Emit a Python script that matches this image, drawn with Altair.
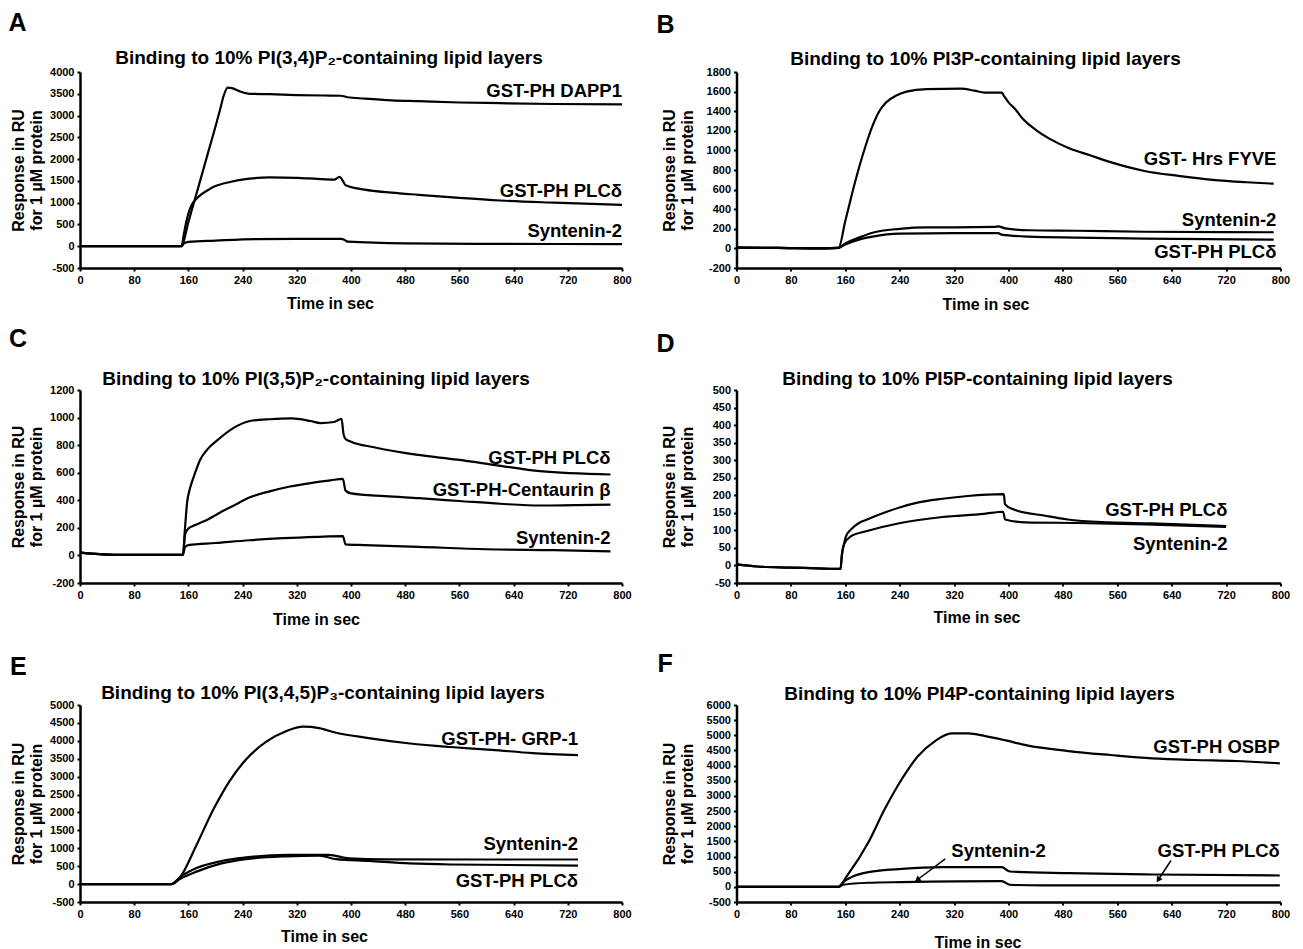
import altair as alt
import pandas as pd

FONT = "Liberation Sans"
X_TICKS = [0, 80, 160, 240, 320, 400, 480, 560, 640, 720, 800]

# ---------------- Panel A : PI(3,4)P2 ----------------
A_dapp1_t = [0, 50, 100, 150, 160, 170, 180, 190, 200, 207, 212, 218, 224, 235, 250, 280, 320, 360, 385, 395, 420, 460, 500, 560, 620, 700, 800]
A_dapp1_v = [0, 0, 0, 0, 560, 1100, 1650, 2200, 2750, 3150, 3450, 3640, 3630, 3560, 3500, 3490, 3470, 3460, 3455, 3420, 3390, 3350, 3330, 3300, 3285, 3265, 3255]
A_plc_t = [0, 50, 100, 150, 153, 156, 160, 165, 172, 180, 190, 200, 220, 250, 280, 320, 350, 375, 383, 388, 392, 420, 460, 500, 560, 620, 700, 800]
A_plc_v = [0, 0, 0, 0, 250, 500, 750, 950, 1090, 1200, 1300, 1380, 1470, 1550, 1580, 1570, 1545, 1530, 1590, 1500, 1400, 1300, 1230, 1180, 1110, 1050, 1000, 950]
A_syn_t = [0, 100, 150, 153, 160, 200, 260, 320, 385, 390, 395, 480, 600, 800]
A_syn_v = [0, 0, 0, 60, 100, 130, 165, 170, 170, 150, 105, 65, 55, 50]
A_labels = ["GST-PH DAPP1", "GST-PH PLCδ", "Syntenin-2"]
A_label_t = [800, 800, 800]
A_label_v = [3418, 1130, 216]

# ---------------- Panel B : PI3P ----------------
B_hrs_t = [0, 60, 130, 150, 160, 170, 180, 190, 200, 210, 220, 235, 250, 280, 330, 350, 365, 390, 393, 400, 410, 420, 440, 460, 490, 520, 550, 600, 650, 700, 750, 790]
B_hrs_v = [8, 5, 0, 5, 280, 560, 820, 1050, 1250, 1400, 1490, 1560, 1600, 1625, 1630, 1610, 1590, 1590, 1560, 1490, 1420, 1330, 1210, 1120, 1020, 950, 880, 790, 740, 700, 675, 660]
B_syn_t = [0, 60, 130, 150, 160, 180, 200, 240, 280, 320, 380, 385, 395, 430, 500, 600, 790]
B_syn_v = [8, 5, 0, 5, 50, 110, 160, 200, 215, 215, 220, 225, 205, 185, 180, 170, 165]
B_plc_t = [0, 60, 130, 150, 160, 180, 200, 240, 320, 385, 390, 430, 500, 600, 790]
B_plc_v = [8, 5, 0, 5, 40, 90, 120, 150, 155, 155, 140, 120, 110, 100, 90]
B_labels = ["GST- Hrs FYVE", "Syntenin-2", "GST-PH PLCδ"]
B_label_t = [794, 794, 794]
B_label_v = [853, 233, -98]

# ---------------- Panel C : PI(3,5)P2 ----------------
C_plc_t = [0, 50, 100, 152, 155, 158, 162, 165, 170, 177, 190, 202, 225, 251, 280, 312, 340, 355, 375, 386, 389, 392, 400, 434, 496, 557, 618, 679, 783]
C_plc_v = [20, 5, 5, 5, 200, 380, 480, 530, 600, 690, 780, 833, 920, 975, 988, 994, 975, 960, 968, 990, 880, 845, 825, 785, 731, 695, 652, 611, 587]
C_cen_t = [0, 50, 100, 152, 155, 160, 170, 190, 210, 230, 250, 280, 310, 340, 370, 388, 392, 400, 450, 500, 560, 620, 680, 730, 783]
C_cen_v = [20, 5, 5, 5, 150, 195, 220, 265, 320, 370, 420, 465, 500, 525, 545, 555, 470, 450, 430, 415, 395, 375, 362, 365, 368]
C_syn_t = [0, 50, 100, 152, 155, 160, 200, 250, 300, 350, 388, 392, 420, 500, 600, 700, 783]
C_syn_v = [20, 5, 5, 5, 60, 75, 90, 110, 125, 135, 140, 80, 75, 62, 45, 38, 30]
C_labels = ["GST-PH PLCδ", "GST-PH-Centaurin β", "Syntenin-2"]
C_label_t = [783, 783, 783]
C_label_v = [664, 434, 84]

# ---------------- Panel D : PI5P ----------------
D_plc_t = [0, 30, 80, 130, 153, 155, 158, 161, 168, 180, 192, 217, 241, 266, 303, 340, 393, 395, 407, 456, 487, 548, 610, 720]
D_plc_v = [3, -3, -6, -9, -10, 30, 60, 83, 102, 121, 131, 150, 166, 179, 190, 198, 203, 174, 160, 141, 131, 123, 120, 112]
D_syn_t = [0, 30, 80, 130, 153, 155, 158, 168, 192, 241, 303, 364, 392, 395, 425, 500, 600, 720]
D_syn_v = [3, -3, -6, -9, -10, 30, 60, 83, 98, 121, 138, 147, 153, 131, 123, 121, 117, 110]
D_labels = ["GST-PH PLCδ", "Syntenin-2"]
D_label_t = [722, 722]
D_label_v = [141, 45]

# ---------------- Panel E : PI(3,4,5)P3 ----------------
E_grp_t = [0, 60, 135, 148, 172, 197, 221, 245, 275, 305, 329, 353, 378, 426, 487, 547, 608, 668, 735]
E_grp_v = [0, 0, 0, 199, 1093, 2087, 2883, 3479, 3976, 4274, 4394, 4354, 4225, 4076, 3926, 3827, 3748, 3658, 3598]
E_syn_t = [0, 60, 135, 148, 172, 209, 245, 305, 367, 397, 450, 735]
E_syn_v = [0, 0, 0, 199, 447, 646, 745, 815, 815, 716, 690, 686]
E_plc_t = [0, 60, 135, 148, 172, 209, 245, 305, 353, 378, 426, 487, 547, 735]
E_plc_v = [0, 0, 0, 150, 348, 577, 696, 775, 795, 696, 646, 577, 547, 517]
E_labels = ["GST-PH- GRP-1", "Syntenin-2", "GST-PH PLCδ"]
E_label_t = [735, 735, 735]
E_label_v = [3897, 964, -70]

# ---------------- Panel F : PI4P ----------------
F_osbp_t = [0, 60, 150, 163, 194, 218, 243, 267, 292, 316, 341, 366, 396, 427, 488, 550, 611, 673, 734, 799]
F_osbp_v = [0, 0, 0, 376, 1470, 2565, 3550, 4316, 4809, 5061, 5061, 4973, 4831, 4667, 4481, 4350, 4240, 4185, 4152, 4075]
F_plc_t = [0, 60, 150, 157, 169, 194, 243, 304, 390, 402, 488, 611, 799]
F_plc_v = [0, 0, 0, 157, 321, 485, 594, 649, 649, 507, 452, 408, 375]
F_syn_t = [0, 60, 150, 157, 194, 243, 390, 402, 450, 799]
F_syn_v = [0, 0, 0, 69, 135, 157, 190, 69, 47, 47]
F_labels = ["GST-PH OSBP", "Syntenin-2", "GST-PH PLCδ"]
F_label_t = [799, 455, 799]
F_label_v = [4425, 977, 977]
# arrows: tail (start) and tip (end) in data units, tip angle in degrees
F_arrow_tail_t = [307, 639]
F_arrow_tail_v = [922, 868]
F_arrow_tip_t = [267, 621]
F_arrow_tip_v = [250, 260]
F_arrow_angle = [233, 213]


def panel(letter, title, series, labels, ydom, ystep, width, height,
          title_dx, title_offset, ytitle_x, xtitle_x, xtitle_pad,
          letter_x, letter_y, arrows=None):
    rows = []
    for name, ts, vs in series:
        for t, v in zip(ts, vs):
            rows.append({"s": name, "t": t, "v": v})
    df = pd.DataFrame(rows)
    lab = pd.DataFrame({"label": labels[0], "t": labels[1], "v": labels[2]})
    yticks = list(range(ydom[0], ydom[1] + 1, ystep))

    def xenc():
        return alt.X("t:Q", scale=alt.Scale(domain=[0, 800], nice=False, zero=False),
                     axis=alt.Axis(values=X_TICKS, title="Time in sec", titleX=xtitle_x,
                                   titlePadding=xtitle_pad, labelExpr="datum.value",
                                   labelFlush=False))

    def yenc():
        return alt.Y("v:Q", scale=alt.Scale(domain=ydom, nice=False, zero=False),
                     axis=alt.Axis(values=yticks, title=["Response in RU", "for 1 µM protein"],
                                   titleX=ytitle_x, labelExpr="datum.value",
                                   labelFlush=False, labelOverlap=False,
                                   titleLineHeight=18))

    lines = alt.Chart(df).mark_line(color="black", strokeWidth=2.2, interpolate="monotone").encode(
        x=xenc(), y=yenc(), detail="s:N")
    texts = alt.Chart(lab).mark_text(align="right", baseline="alphabetic", fontSize=18.5,
                                     fontWeight="bold", font=FONT, color="black").encode(
        x=xenc(), y=yenc(), text="label:N")
    head_df = pd.DataFrame({"L": [letter], "T": [title]})
    let = alt.Chart(head_df).mark_text(align="left", baseline="alphabetic", fontSize=25,
                                        fontWeight="bold", font=FONT, color="black").encode(
        x=alt.value(letter_x), y=alt.value(letter_y), text="L:N")
    ttl = alt.Chart(head_df).mark_text(align="center", baseline="alphabetic", fontSize=19,
                                        fontWeight="bold", font=FONT, color="black").encode(
        x=alt.value(width / 2 + title_dx), y=alt.value(-title_offset), text="T:N")
    layers = [lines, texts, let, ttl]
    if arrows is not None:
        adf = pd.DataFrame({"t": arrows[2], "v": arrows[3], "t2": arrows[0], "v2": arrows[1],
                            "ang": arrows[4]})
        rule = alt.Chart(adf).mark_rule(color="black", strokeWidth=1.5).encode(
            x=xenc(), y=yenc(), x2="t2:Q", y2="v2:Q")
        head = alt.Chart(adf).mark_point(shape="triangle", filled=True, color="black",
                                         size=45, opacity=1).encode(
            x=xenc(), y=yenc(), angle=alt.Angle("ang:Q", scale=None))
        layers += [rule, head]
    return alt.layer(*layers).properties(width=width, height=height)


pA = panel("A", "Binding to 10% PI(3,4)P₂-containing lipid layers",
           [("dapp1", A_dapp1_t, A_dapp1_v), ("plc", A_plc_t, A_plc_v), ("syn", A_syn_t, A_syn_v)],
           (A_labels, A_label_t, A_label_v), [-500, 4000], 500, 542, 196,
           -22, 8.5, -53.5, 250, 10, -71.5, -41)
pB = panel("B", "Binding to 10% PI3P-containing lipid layers",
           [("hrs", B_hrs_t, B_hrs_v), ("syn", B_syn_t, B_syn_v), ("plc", B_plc_t, B_plc_v)],
           (B_labels, B_label_t, B_label_v), [-200, 1800], 200, 544, 196,
           -23, 7.5, -59, 249, 11, -80, -39)
pC = panel("C", "Binding to 10% PI(3,5)P₂-containing lipid layers",
           [("plc", C_plc_t, C_plc_v), ("cen", C_cen_t, C_cen_v), ("syn", C_syn_t, C_syn_v)],
           (C_labels, C_label_t, C_label_v), [-200, 1200], 200, 542, 193,
           -35, 5.5, -53.5, 236, 11, -71, -43)
pD = panel("D", "Binding to 10% PI5P-containing lipid layers",
           [("plc", D_plc_t, D_plc_v), ("syn", D_syn_t, D_syn_v)],
           (D_labels, D_label_t, D_label_v), [-50, 500], 50, 544, 193,
           -31, 5.5, -59, 240, 9, -80, -38)
pE = panel("E", "Binding to 10% PI(3,4,5)P₃-containing lipid layers",
           [("grp", E_grp_t, E_grp_v), ("syn", E_syn_t, E_syn_v), ("plc", E_plc_t, E_plc_v)],
           (E_labels, E_label_t, E_label_v), [-500, 5000], 500, 542, 197,
           -28, 6.5, -53.5, 244, 9, -70, -30)
pF = panel("F", "Binding to 10% PI4P-containing lipid layers",
           [("osbp", F_osbp_t, F_osbp_v), ("plc", F_plc_t, F_plc_v), ("syn", F_syn_t, F_syn_v)],
           (F_labels, F_label_t, F_label_v), [-500, 6000], 500, 544, 197,
           -29, 5.5, -59, 241, 15, -79, -33,
           arrows=(F_arrow_tail_t, F_arrow_tail_v, F_arrow_tip_t, F_arrow_tip_v, F_arrow_angle))

chart = alt.concat(pA, pB, pC, pD, pE, pF, columns=2,
                   spacing={"row": 122, "column": 114.5}, bounds="flush").properties(
    padding={"top": 3, "left": 0, "right": 0, "bottom": 0}, background="white"
).configure_axis(
    domainColor="black", domainWidth=2.5, tickColor="black", tickWidth=2, tickSize=3,
    labelFont=FONT, labelFontSize=11, labelFontWeight="bold", labelColor="black",
    labelPadding=3, titleFont=FONT, titleFontSize=16, titleFontWeight="bold",
    titleColor="black", grid=False
).configure_view(stroke=None)

chart.save("out.html", embed_options={"renderer": "svg", "actions": False})
